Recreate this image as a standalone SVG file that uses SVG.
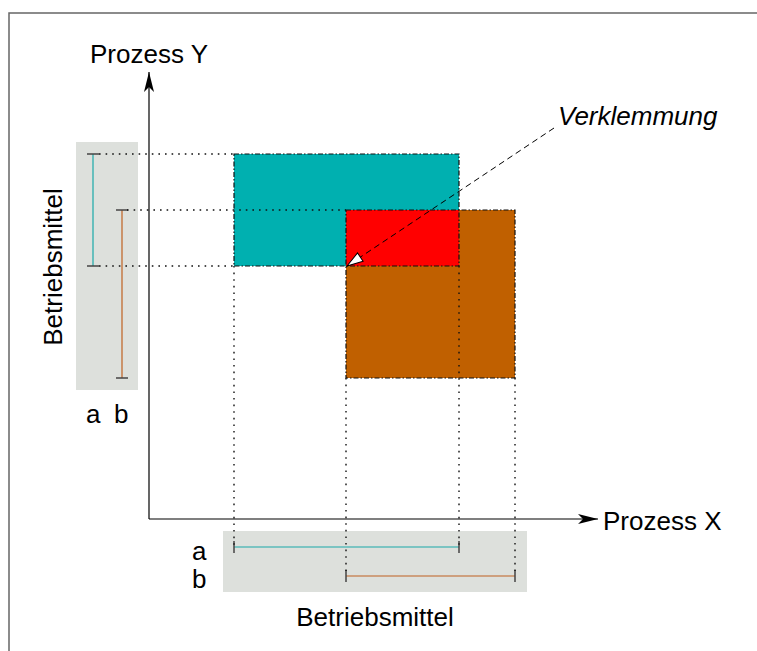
<svg xmlns="http://www.w3.org/2000/svg" width="757" height="651" viewBox="0 0 757 651">
<style>
text{font-family:"Liberation Sans",Arial,sans-serif;font-size:26px;fill:#000}
.it{font-style:italic}
.dot{stroke:#111;stroke-width:1.4;stroke-dasharray:1.6,5;fill:none}
.dd{stroke:#111;stroke-width:1.2;stroke-dasharray:5,2,1.5,2}
.tick{stroke:#444;stroke-width:1.5}
.bg{fill:#dde0dc}
</style>
<defs>
<marker id="ah" markerWidth="20" markerHeight="12" refX="20" refY="6" orient="auto" markerUnits="userSpaceOnUse">
<path d="M0,1 L20,6 L0,11 L5,6 Z" fill="#000"/>
</marker>
<marker id="wh" markerWidth="18" markerHeight="12" refX="17" refY="6" orient="auto" markerUnits="userSpaceOnUse">
<path d="M1,1 L17,6 L1,11 Z" fill="#fff" stroke="#000" stroke-width="1"/>
</marker>
</defs>
<rect width="757" height="651" fill="#fff"/>
<path d="M9,651 V13 H757" fill="none" stroke="#666" stroke-width="1.5"/>

<g id="legend-y">
<rect class="bg" x="76" y="142" width="62" height="248"/>
<line x1="93" y1="154" x2="93" y2="266" stroke="#1aa8a8" stroke-width="1.2"/>
<line x1="122" y1="210" x2="122" y2="378" stroke="#c06020" stroke-width="1.2"/>
<line class="tick" x1="87" y1="154" x2="99" y2="154"/>
<line class="tick" x1="87" y1="266" x2="99" y2="266"/>
<line class="tick" x1="116" y1="210" x2="128" y2="210"/>
<line class="tick" x1="116" y1="378" x2="128" y2="378"/>
<text x="86" y="423">a</text>
<text x="114" y="423">b</text>
<text transform="translate(62,267) rotate(-90)" text-anchor="middle">Betriebsmittel</text>
</g>

<g id="legend-x">
<rect class="bg" x="223" y="531" width="304" height="61"/>
<line x1="234" y1="547" x2="459" y2="547" stroke="#1aa8a8" stroke-width="1.2"/>
<line x1="346" y1="576" x2="515" y2="576" stroke="#c06020" stroke-width="1.2"/>
<line class="tick" x1="234" y1="541" x2="234" y2="553"/>
<line class="tick" x1="459" y1="541" x2="459" y2="553"/>
<line class="tick" x1="346" y1="570" x2="346" y2="582"/>
<line class="tick" x1="515" y1="570" x2="515" y2="582"/>
<text x="192" y="560">a</text>
<text x="192" y="588">b</text>
<text x="375" y="626" text-anchor="middle">Betriebsmittel</text>
</g>

<g id="rect-a">
<rect x="234" y="154" width="225" height="112" fill="#00b0b0"/>
</g>
<g id="rect-b">
<rect x="346" y="210" width="169" height="168" fill="#c06000"/>
</g>
<g id="overlap">
<rect x="346" y="210" width="113" height="56" fill="#ff0000"/>
</g>
<g id="borders">
<rect class="dd" x="234" y="154" width="225" height="112" fill="none"/>
<rect class="dd" x="346" y="210" width="169" height="168" fill="none"/>
</g>

<g id="connectors">
<line class="dot" x1="99" y1="154" x2="234" y2="154"/>
<line class="dot" x1="127" y1="210" x2="346" y2="210"/>
<line class="dot" x1="99" y1="266" x2="234" y2="266"/>
<line class="dot" x1="234" y1="266" x2="234" y2="547"/>
<line class="dot" x1="346" y1="378" x2="346" y2="576"/>
<line class="dot" x1="459" y1="266" x2="459" y2="547"/>
<line class="dot" x1="515" y1="378" x2="515" y2="576"/>
<line x1="149" y1="519" x2="149" y2="72" stroke="#000" stroke-width="1.2" marker-end="url(#ah)"/>
<line x1="149" y1="519" x2="598" y2="519" stroke="#000" stroke-width="1.2" marker-end="url(#ah)"/>
<line x1="554" y1="128" x2="347" y2="266" stroke="#000" stroke-width="1" stroke-dasharray="6,4" marker-end="url(#wh)"/>
</g>

<g id="labels">
<text x="90" y="63">Prozess Y</text>
<text x="603" y="530">Prozess X</text>
<text class="it" x="558" y="125">Verklemmung</text>
</g>
</svg>
